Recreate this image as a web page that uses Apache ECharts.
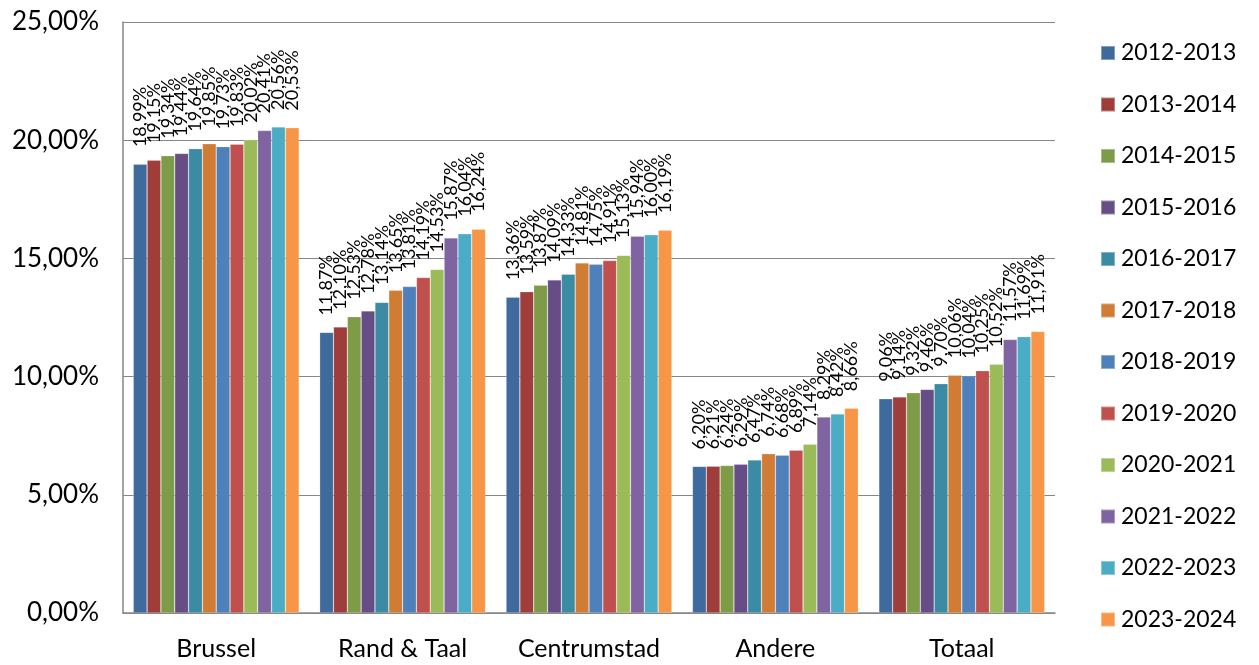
<!DOCTYPE html>
<html>
<head>
<meta charset="utf-8">
<script src="https://cdn.jsdelivr.net/npm/echarts@6/dist/echarts.min.js"></script>
<style>html,body{margin:0;padding:0;background:#fff}#c{width:1259px;height:665px}</style>
</head>
<body>
<div id="c"></div>
<script>
const categories = ['Brussel', 'Rand & Taal', 'Centrumstad', 'Andere', 'Totaal'];
const seriesNames = ['2012-2013','2013-2014','2014-2015','2015-2016','2016-2017','2017-2018','2018-2019','2019-2020','2020-2021','2021-2022','2022-2023','2023-2024'];
// values per series, one entry per category (Brussel, Rand & Taal, Centrumstad, Andere, Totaal)
const s2012 = [18.99, 11.87, 13.36, 6.20, 9.06];
const s2013 = [19.15, 12.10, 13.59, 6.21, 9.14];
const s2014 = [19.34, 12.53, 13.87, 6.24, 9.32];
const s2015 = [19.44, 12.78, 14.09, 6.29, 9.46];
const s2016 = [19.64, 13.14, 14.33, 6.47, 9.70];
const s2017 = [19.85, 13.65, 14.81, 6.74, 10.06];
const s2018 = [19.73, 13.81, 14.75, 6.68, 10.04];
const s2019 = [19.83, 14.19, 14.91, 6.89, 10.25];
const s2020 = [20.02, 14.53, 15.13, 7.14, 10.52];
const s2021 = [20.41, 15.87, 15.94, 8.29, 11.57];
const s2022 = [20.56, 16.04, 16.00, 8.42, 11.69];
const s2023 = [20.53, 16.24, 16.19, 8.66, 11.91];
const yTicks = [0, 5, 10, 15, 20, 25];
const colors = ['#3F6A9E','#9E3D3A','#7E9B47','#664D85','#3A8BA3','#D07C35','#4E80BC','#C0504D','#9BBB59','#8064A2','#4BACC6','#F79646'];
const allData = [s2012,s2013,s2014,s2015,s2016,s2017,s2018,s2019,s2020,s2021,s2022,s2023];

const fmt = v => v.toFixed(2).replace('.', ',') + '%';
const font = 'Lato, "Open Sans", sans-serif';

const chart = echarts.init(document.getElementById('c'), null, {renderer: 'canvas'});
chart.setOption({
  animation: false,
  color: colors,
  grid: {left: 123, right: 204, top: 22, bottom: 52, containLabel: false},
  legend: {
    orient: 'vertical',
    left: 1095,
    top: 36,
    itemWidth: 14,
    itemHeight: 14,
    itemGap: 27.5,
    icon: 'rect',
    textStyle: {fontSize: 23, color: '#000', fontFamily: font, lineHeight: 24, padding: [0,0,0,1]},
    data: seriesNames
  },
  xAxis: {
    type: 'category',
    data: categories,
    axisLine: {lineStyle: {color: '#868686', width: 1.5}},
    axisTick: {show: false},
    axisLabel: {fontSize: 25, color: '#000', fontFamily: font, margin: 23, interval: 0, hideOverlap: false}
  },
  yAxis: {
    type: 'value',
    min: yTicks[0],
    max: yTicks[yTicks.length - 1],
    interval: 5,
    axisLine: {show: true, lineStyle: {color: '#868686', width: 1.5}},
    axisTick: {show: false},
    splitLine: {lineStyle: {color: '#868686', width: 1.2}},
    axisLabel: {fontSize: 26, color: '#000', fontFamily: font, margin: 24, formatter: v => fmt(v)}
  },
  series: seriesNames.map((name, i) => ({
    name: name,
    type: 'bar',
    data: allData[i],
    barGap: '0%',
    barCategoryGap: '11%',
    itemStyle: {borderColor: 'rgba(255,255,255,0.35)', borderWidth: 0.6},
    label: {
      show: true,
      position: 'top',
      rotate: 90,
      align: 'left',
      verticalAlign: 'middle',
      distance: 17,
      fontSize: 18,
      color: '#000',
      fontFamily: font,
      formatter: p => fmt(p.value)
    }
  }))
});
</script>
</body>
</html>
